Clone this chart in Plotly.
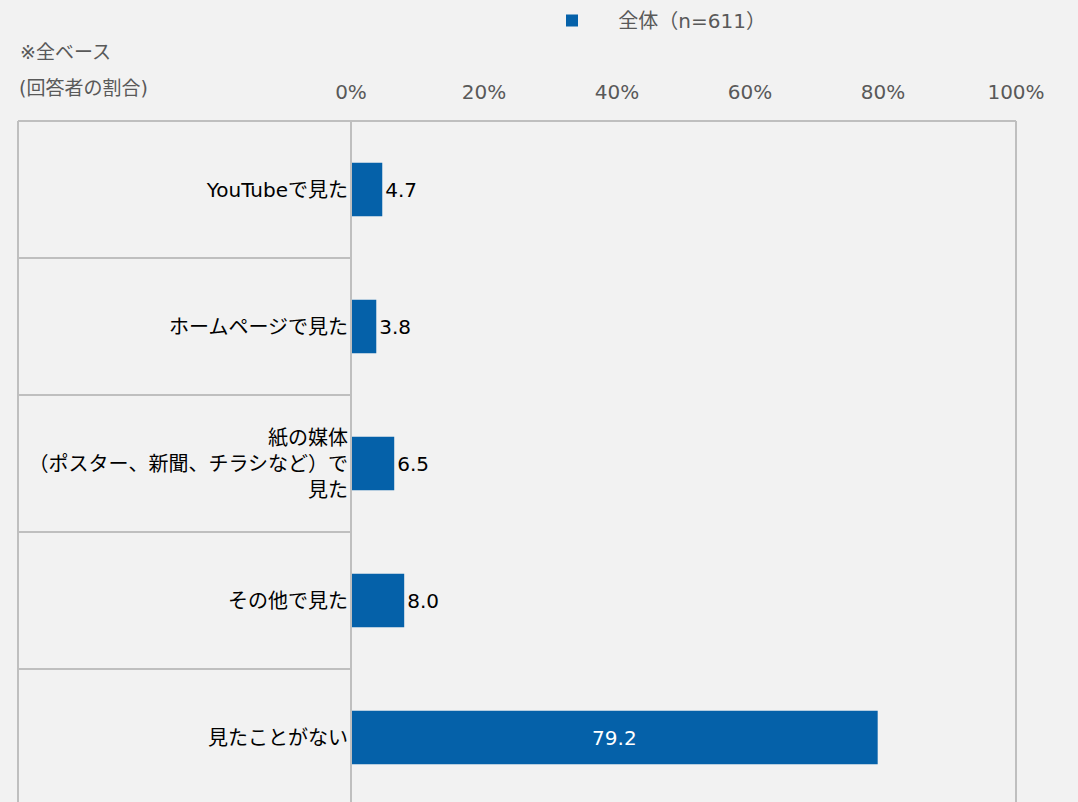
import plotly.graph_objects as go

categories = ["YouTubeで見た", "ホームページで見た", "紙の媒体<br>（ポスター、新聞、チラシなど）で<br>見た", "その他で見た", "見たことがない"]
values = [4.7, 3.8, 6.5, 8.0, 79.2]
series_name = "\u3000\u00a0全体（n=611）"
tick_vals = [0, 20, 40, 60, 80, 100]
tick_text = ["0%", "20%", "40%", "60%", "80%", "100%"]

BLUE = "#0561A9"
GRID = "#BFBFBF"
GRAY = "#595959"
FONT = "DejaVu Sans, Noto Sans CJK JP"

W, H = 1078, 802
ML, MR, MT, MB = 351, 62, 121, 0
plot_w = W - ML - MR
plot_h = H - MT - MB
left_edge = (18 - ML) / plot_w
row_px = 137
n = len(categories)
y_bottom = -0.5 + plot_h / row_px

ypos = list(range(n))
textpos = ["inside" if v > 50 else "outside" for v in values]

fig = go.Figure()
fig.add_trace(go.Bar(
    x=values, y=ypos, orientation="h", name=series_name,
    marker=dict(color=BLUE, line=dict(width=0)),
    width=0.39,
    text=[f"{v:.1f}" for v in values],
    textposition=textpos,
    insidetextanchor="middle",
    textfont=dict(family=FONT, size=20),
    outsidetextfont=dict(color="#000000", family=FONT, size=20),
    insidetextfont=dict(color="#FFFFFF", family=FONT, size=20),
    cliponaxis=False,
    showlegend=True,
    hoverinfo="skip",
))

shapes = []
shapes.append(dict(type="line", xref="paper", yref="paper", x0=left_edge, x1=1, y0=1, y1=1,
                   line=dict(color=GRID, width=2)))
shapes.append(dict(type="line", xref="paper", yref="paper", x0=left_edge, x1=left_edge, y0=0, y1=1,
                   line=dict(color=GRID, width=2)))
shapes.append(dict(type="line", xref="paper", yref="paper", x0=0, x1=0, y0=0, y1=1,
                   line=dict(color=GRID, width=2)))
shapes.append(dict(type="line", xref="paper", yref="paper", x0=1, x1=1, y0=0, y1=1,
                   line=dict(color=GRID, width=2)))
for i in range(n):
    shapes.append(dict(type="line", xref="paper", yref="y", x0=left_edge, x1=0, y0=i + 0.5, y1=i + 0.5,
                       line=dict(color=GRID, width=2)))

fig.update_layout(
    width=W, height=H,
    margin=dict(l=ML, r=MR, t=MT, b=MB, pad=0),
    paper_bgcolor="#F2F2F2", plot_bgcolor="#F2F2F2",
    font=dict(family=FONT, size=20, color=GRAY),
    shapes=shapes,
    xaxis=dict(range=[0, 100], side="top", tickvals=tick_vals, ticktext=tick_text,
               showgrid=False, zeroline=False, showline=False, ticks="",
               tickfont=dict(size=20, color=GRAY), ticklabelstandoff=17),
    yaxis=dict(range=[y_bottom, -0.5], tickvals=ypos, ticktext=categories,
               showgrid=False, zeroline=False, showline=False, ticks="",
               tickfont=dict(size=20, color="#000000"), ticklabelstandoff=2),
    legend=dict(orientation="h", x=(566 - ML - 14) / plot_w, y=1 + (MT - 1) / plot_h,
                xanchor="left", yanchor="top", bgcolor="rgba(0,0,0,0)",
                font=dict(size=20, color=GRAY)),
    annotations=[
        dict(text="※全ベース", xref="paper", yref="paper", x=left_edge, y=1 + (MT - 52) / plot_h,
             xanchor="left", yanchor="middle", showarrow=False, font=dict(size=19, color=GRAY)),
        dict(text="(回答者の割合)", xref="paper", yref="paper", x=left_edge - 0.002, y=1 + (MT - 88) / plot_h,
             xanchor="left", yanchor="middle", showarrow=False, font=dict(size=19, color=GRAY)),
    ],
)

fig.write_html("out.html", config={"displayModeBar": False},
               post_script="document.body.style.margin='0';document.body.style.padding='0';document.body.style.overflow='hidden';document.body.style.background='#F2F2F2';")
